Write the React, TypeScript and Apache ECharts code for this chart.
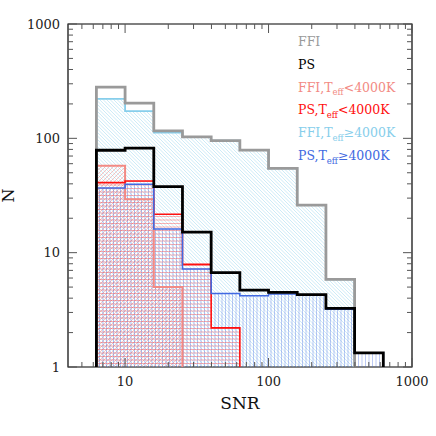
import React, { useEffect, useRef } from 'react';
import * as echarts from 'echarts';

// Histogram bin edges (SNR), 0.2 dex wide
const binEdges = [6.31, 10, 15.85, 25.12, 39.81, 63.1, 100, 158.5, 251.2, 398.1, 631];

// Counts per bin
const ffiAll = [280, 203, 116, 103, 95.5, 79, 54.7, 26.1, 5.85];
const psAll = [78.7, 82, 37.8, 15.1, 6.7, 4.7, 4.5, 4.3, 3.26, 1.33];
const ffiCool = [57.7, 29.3, 5];
const psCool = [41, 42.4, 21.7, 7.9, 2.2];
const ffiWarm = [221, 173, 112, 103, 95.5, 79, 54.7, 26.1, 5.85];
const psWarm = [36.8, 39.7, 16.1, 7.2, 4.4, 4.2, 4.35, 4.26, 3.2, 1.33];

// Tick values
const xTickMajor = [10, 100, 1000];
const xTickMinor = [5, 6, 7, 8, 9, 20, 30, 40, 50, 60, 70, 80, 90, 200, 300, 400, 500, 600, 700, 800, 900];
const yTickMajor = [1, 10, 100, 1000];
const yTickMinor = [2, 3, 4, 5, 6, 7, 8, 9, 20, 30, 40, 50, 60, 70, 80, 90, 200, 300, 400, 500, 600, 700, 800, 900];

const C_GREY = '#9a9a9a';
const C_BLACK = '#000000';
const C_SALMON = '#f28a84';
const C_RED = '#ff1010';
const C_LBLUE = '#87ceeb';
const C_BLUE = '#4169e1';

const legendItems = [
  { pre: 'FFI', sub: '', post: '', color: C_GREY },
  { pre: 'PS', sub: '', post: '', color: C_BLACK },
  { pre: 'FFI,T', sub: 'eff', post: '<4000K', color: C_SALMON },
  { pre: 'PS,T', sub: 'eff', post: '<4000K', color: C_RED },
  { pre: 'FFI,T', sub: 'eff', post: '≥4000K', color: C_LBLUE },
  { pre: 'PS,T', sub: 'eff', post: '≥4000K', color: C_BLUE },
];
const legendY = [43, 66, 88.5, 111, 134, 157];

const FONT = 'DejaVu Serif';

function hatchSeries(name: string, values: number[], color: string, kind: string, spacing: number, opacity: number, width: number) {
  const data = values.map((v, i) => [binEdges[i], binEdges[i + 1], v]);
  return {
    type: 'custom',
    name,
    silent: true,
    z: 1,
    clip: true,
    encode: { x: [0, 1], y: 2 },
    data,
    renderItem: (params: any, api: any) => {
      const lo = api.value(0);
      const hi = api.value(1);
      const v = api.value(2);
      const pTop = api.coord([lo, v]);
      const pBot = api.coord([hi, 1]);
      const xa = pTop[0], xb = pBot[0], ya = pTop[1], yb = pBot[1];
      const cs = params.coordSys;
      const children: any[] = [];
      const st = { stroke: color, lineWidth: width, opacity };
      const push = (x1: number, y1: number, x2: number, y2: number) =>
        children.push({ type: 'line', shape: { x1, y1, x2, y2 }, style: st });
      if (kind === 'h') {
        const base = cs.y + cs.height;
        for (let k = 1; ; k++) {
          const y = base - k * spacing;
          if (y <= ya) break;
          push(xa, y, xb, y);
        }
      } else if (kind === 'v') {
        const k0 = Math.ceil((xa - cs.x) / spacing);
        for (let k = k0; ; k++) {
          const x = cs.x + k * spacing;
          if (x >= xb) break;
          if (x > xa) push(x, ya, x, yb);
        }
      } else if (kind === 'd1') {
        const k0 = Math.ceil((xa - yb) / spacing);
        const k1 = Math.floor((xb - ya) / spacing);
        for (let k = k0; k <= k1; k++) {
          const c = k * spacing;
          const x1 = Math.max(xa, ya + c);
          const x2 = Math.min(xb, yb + c);
          if (x2 > x1) push(x1, x1 - c, x2, x2 - c);
        }
      } else {
        const k0 = Math.ceil((xa + ya) / spacing);
        const k1 = Math.floor((xb + yb) / spacing);
        for (let k = k0; k <= k1; k++) {
          const c = k * spacing;
          const x1 = Math.max(xa, c - yb);
          const x2 = Math.min(xb, c - ya);
          if (x2 > x1) push(x1, c - x1, x2, c - x2);
        }
      }
      return { type: 'group', children };
    },
  };
}

function outlineSeries(name: string, values: number[], color: string, width: number, z: number) {
  const pts: number[][] = [[binEdges[0], 1]];
  values.forEach((v, i) => {
    pts.push([binEdges[i], v]);
    pts.push([binEdges[i + 1], v]);
  });
  pts.push([binEdges[values.length], 1]);
  return {
    type: 'line',
    name,
    data: pts,
    symbol: 'none',
    silent: true,
    clip: true,
    z,
    lineStyle: { color, width, join: 'miter', cap: 'butt' },
  };
}

function tickSeries(values: number[], axis: 'x' | 'y', len: number) {
  return {
    type: 'custom',
    silent: true,
    clip: false,
    z: 5,
    data: values.map((v) => (axis === 'x' ? [v, 1] : [10, v])),
    renderItem: (params: any, api: any) => {
      const cs = params.coordSys;
      const p = api.coord([api.value(0), api.value(1)]);
      const st = { stroke: '#555', lineWidth: 1 };
      if (axis === 'x') {
        const x = p[0];
        return {
          type: 'group',
          children: [
            { type: 'line', shape: { x1: x, y1: cs.y + cs.height, x2: x, y2: cs.y + cs.height - len }, style: st },
            { type: 'line', shape: { x1: x, y1: cs.y, x2: x, y2: cs.y + len }, style: st },
          ],
        };
      }
      const y = p[1];
      return {
        type: 'group',
        children: [
          { type: 'line', shape: { x1: cs.x, y1: y, x2: cs.x + len, y2: y }, style: st },
          { type: 'line', shape: { x1: cs.x + cs.width, y1: y, x2: cs.x + cs.width - len, y2: y }, style: st },
        ],
      };
    },
  };
}

const isPow10 = (v: number) => Math.abs(Math.log10(v) - Math.round(Math.log10(v))) < 1e-6;

export default function App() {
  const ref = useRef<HTMLDivElement>(null);
  useEffect(() => {
    document.body.style.margin = '0';
    if (!ref.current) return;
    const chart = echarts.init(ref.current, undefined, { renderer: 'svg' });
    const legendGraphics = legendItems.map((it, i) => ({
      type: 'text',
      x: 298,
      y: legendY[i],
      z: 10,
      style: {
        text: it.sub ? `{m|${it.pre}}{s|${it.sub}}{m|${it.post}}` : `{m|${it.pre}}`,
        fill: it.color,
        verticalAlign: 'middle',
        align: 'left',
        rich: {
          m: { fontSize: 12.5, fontFamily: FONT, fill: it.color, color: it.color, lineHeight: 16, verticalAlign: 'top' },
          s: { fontSize: 8.5, fontFamily: FONT, fill: it.color, color: it.color, lineHeight: 8, verticalAlign: 'bottom' },
        },
      },
    }));
    chart.setOption({
      animation: false,
      backgroundColor: '#ffffff',
      grid: {
        left: 68, top: 24, right: 24, bottom: 69,
        containLabel: false, outerBoundsMode: 'none',
        show: true, borderColor: '#000', borderWidth: 1.2, backgroundColor: 'transparent',
      },
      xAxis: {
        type: 'log',
        logBase: 10,
        min: 4,
        max: 1000,
        name: 'SNR',
        nameLocation: 'middle',
        nameGap: 27,
        nameTextStyle: { fontFamily: FONT, fontSize: 17, color: '#111' },
        axisLine: { show: false },
        axisTick: { show: false },
        splitLine: { show: false },
        axisLabel: {
          margin: 8,
          fontFamily: FONT,
          fontSize: 13,
          color: '#222',
          formatter: (v: number) => (isPow10(v) ? String(Math.round(v)) : ''),
        },
      },
      yAxis: {
        type: 'log',
        logBase: 10,
        min: 1,
        max: 1000,
        name: 'N',
        nameLocation: 'middle',
        nameGap: 42,
        nameTextStyle: { fontFamily: FONT, fontSize: 16, color: '#111' },
        axisLine: { show: false },
        axisTick: { show: false },
        splitLine: { show: false },
        axisLabel: {
          margin: 8,
          fontFamily: FONT,
          fontSize: 13,
          color: '#222',
          formatter: (v: number) => (isPow10(v) ? String(Math.round(v)) : ''),
        },
      },
      graphic: legendGraphics,
      series: [
        hatchSeries('FFI,Teff≥4000K hatch', ffiWarm, C_LBLUE, 'd1', 3.5, 0.6, 0.7),
        hatchSeries('FFI,Teff<4000K hatch', ffiCool, C_SALMON, 'd2', 4, 0.6, 0.8),
        hatchSeries('PS,Teff≥4000K hatch', psWarm, C_BLUE, 'v', 3.5, 0.45, 0.8),
        hatchSeries('PS,Teff<4000K hatch', psCool, C_RED, 'h', 3.5, 0.4, 0.8),
        outlineSeries('FFI,Teff≥4000K', ffiWarm, C_LBLUE, 1.8, 2),
        outlineSeries('FFI,Teff<4000K', ffiCool, C_SALMON, 2, 2),
        outlineSeries('FFI', ffiAll, C_GREY, 2.8, 3),
        outlineSeries('PS,Teff<4000K', psCool, C_RED, 1.6, 3),
        outlineSeries('PS,Teff≥4000K', psWarm, C_BLUE, 1.6, 3),
        outlineSeries('PS', psAll, C_BLACK, 2.8, 4),
        tickSeries(xTickMajor, 'x', 9),
        tickSeries(xTickMinor, 'x', 5),
        tickSeries(yTickMajor, 'y', 9),
        tickSeries(yTickMinor, 'y', 5),
      ],
    });
    return () => chart.dispose();
  }, []);
  return <div ref={ref} style={{ width: 436, height: 436 }} />;
}
